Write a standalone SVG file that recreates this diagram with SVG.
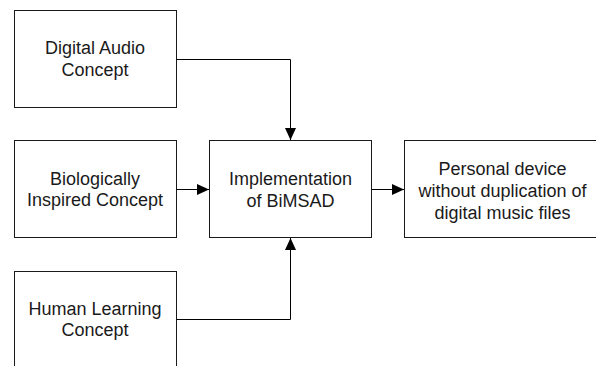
<svg xmlns="http://www.w3.org/2000/svg" width="596" height="366" viewBox="0 0 596 366">
  <style>
    .box { fill: #ffffff; stroke: #1a1a1a; stroke-width: 1; }
    .label { font-family: "Liberation Sans", Arial, sans-serif; font-size: 18px; fill: #1a1a1a; text-anchor: middle; }
    .wire { fill: none; stroke: #000000; stroke-width: 1; }
  </style>
  <defs>
    <marker id="arrow" markerUnits="userSpaceOnUse" markerWidth="13" markerHeight="12" viewBox="0 0 13 12" refX="12" refY="6" orient="auto">
      <path d="M0,0.5 L12,6 L0,11.5 Z" fill="#000000"/>
    </marker>
  </defs>

  <rect width="596" height="366" fill="#ffffff"/>

  <g id="digital-audio">
    <rect class="box" x="14.5" y="10.5" width="162" height="97"/>
    <text class="label" x="95" y="54">Digital Audio</text>
    <text class="label" x="95" y="75.5">Concept</text>
  </g>

  <g id="biologically-inspired">
    <rect class="box" x="14.5" y="140.5" width="162" height="97"/>
    <text class="label" x="95" y="184.5">Biologically</text>
    <text class="label" x="95" y="206">Inspired Concept</text>
  </g>

  <g id="human-learning">
    <rect class="box" x="14.5" y="271.5" width="162" height="98"/>
    <text class="label" x="95" y="314.5">Human Learning</text>
    <text class="label" x="95" y="336">Concept</text>
  </g>

  <g id="implementation">
    <rect class="box" x="209.5" y="140.5" width="162" height="97"/>
    <text class="label" x="290.5" y="185">Implementation</text>
    <text class="label" x="290.5" y="206.5">of BiMSAD</text>
  </g>

  <g id="personal-device">
    <rect class="box" x="404.5" y="140.5" width="197" height="97"/>
    <text class="label" x="502.5" y="175">Personal device</text>
    <text class="label" x="502.5" y="196.5">without duplication of</text>
    <text class="label" x="502.5" y="218.5">digital music files</text>
  </g>

  <g id="connectors">
    <path class="wire" d="M176.5,59.5 H290.5 V140" marker-end="url(#arrow)"/>
    <path class="wire" d="M176.5,189.5 H209" marker-end="url(#arrow)"/>
    <path class="wire" d="M176.5,319.5 H290.5 V238" marker-end="url(#arrow)"/>
    <path class="wire" d="M371.5,189.5 H404" marker-end="url(#arrow)"/>
  </g>
</svg>
